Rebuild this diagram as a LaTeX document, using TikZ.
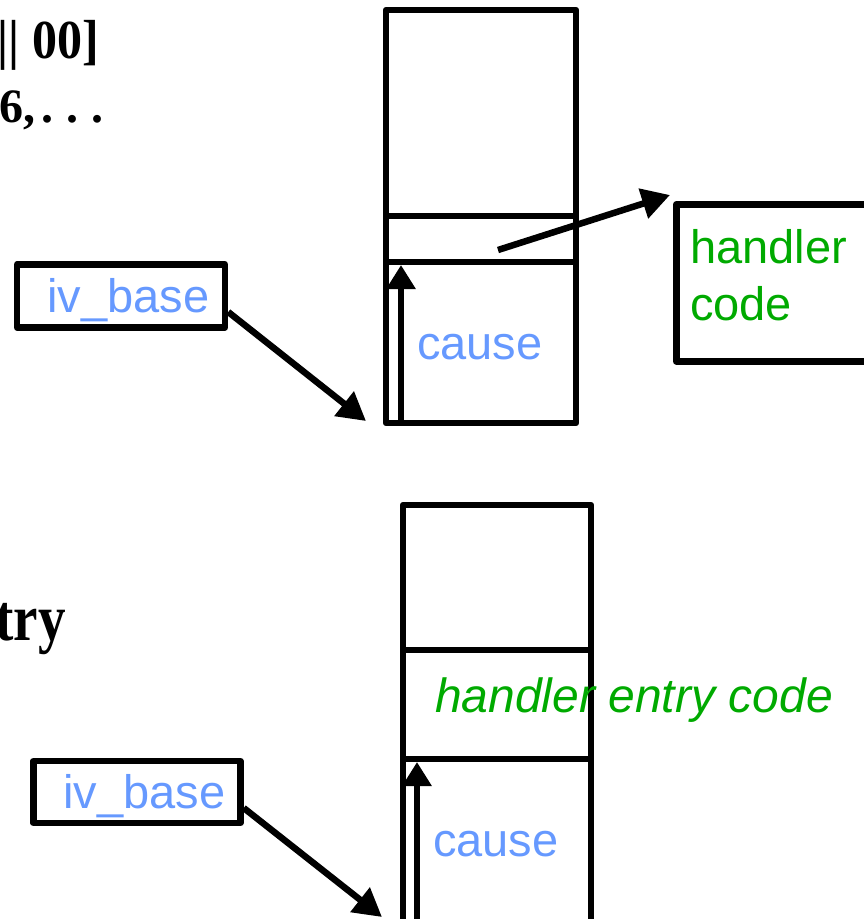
\documentclass[tikz,border=0pt]{standalone}
\usepackage{fontspec}
\usepackage{graphicx}
\setmainfont{Liberation Serif}
\setsansfont{Liberation Sans}
\usetikzlibrary{arrows.meta}
\definecolor{labelblue}{RGB}{102,153,255}
\definecolor{codegreen}{RGB}{0,170,0}
\tikzset{
  frame/.style={draw=black, line width=6.5pt, line join=round},
  ptr/.style={line width=6.5pt, -{Triangle[length=28pt,width=30pt]}},
  uparrow/.style={line width=6.5pt, -{Triangle[length=24pt,width=28pt]}},
  bluelbl/.style={text=labelblue, inner sep=0pt, font=\sffamily\fontsize{47}{57}\selectfont},
  greenlbl/.style={text=codegreen, inner sep=0pt, align=left, font=\sffamily\fontsize{47}{57}\selectfont},
  heading/.style={inner sep=0pt, font=\bfseries\fontsize{#1}{#1}\selectfont}
}
\begin{document}
\begin{tikzpicture}[x=1pt, y=-1pt]
\useasboundingbox (0,0) rectangle (864,919);
\clip (0,0) rectangle (864,919);

% headings at the left margin
\node[heading=50, anchor=base east] (h1) at (99,58) {\scalebox{1}[1.1]{|| 00]}};
\node[heading=48, anchor=base east] (h2) at (104,122) {6,\kern0.125em.\kern0.27em.\kern0.27em.};
\node[heading=55, anchor=base east] (h3) at (66,640) {\scalebox{1}[1.2]{try}};

% ---- upper vector table ----
\draw[frame] (386,10) rectangle (576,423);
\draw[frame] (386,216) -- (576,216);
\draw[frame] (386,262) -- (576,262);
\coordinate (topfoot) at (401,423);
\coordinate (topslot) at (401,265);
\draw[uparrow] (topfoot) -- (topslot);
\node[bluelbl, anchor=base west] (causeA) at (417,359) {cause};

% handler code box
\node[frame, minimum width=207pt, minimum height=157pt, anchor=north west] (handler) at (673,201) {};
\node[greenlbl, anchor=base west] (hcA) at (690,263) {handler};
\node[greenlbl, anchor=base west] (hcB) at (690,320) {code};
\coordinate (entry) at (498,250);
\draw[ptr] (entry) -- ([xshift=-3pt,yshift=6pt]handler.north west);

% iv_base pointer (upper)
\node[frame, minimum width=208pt, minimum height=63pt, inner sep=0pt] (ivA) at (121,296) {};
\node[bluelbl, anchor=base west] (ivAt) at (47,312) {iv\_base};
\coordinate (baseA) at (366,421);
\draw[ptr] ([yshift=-16pt]ivA.east) -- (baseA);

% ---- lower vector table ----
\draw[frame] (403,505) rectangle (591,940);
\draw[frame] (403,650) -- (591,650);
\draw[frame] (403,759) -- (591,759);
\coordinate (botfoot) at (417,930);
\coordinate (botslot) at (417,762);
\draw[uparrow] (botfoot) -- (botslot);
\node[bluelbl, anchor=base west] (causeB) at (433,856) {cause};
\node[greenlbl, anchor=base west, font=\sffamily\fontsize{48}{57}\selectfont] (hec) at (435,712) {\itshape handler entry code};

% iv_base pointer (lower)
\node[frame, minimum width=207pt, minimum height=62pt, inner sep=0pt] (ivB) at (137,792) {};
\node[bluelbl, anchor=base west] (ivBt) at (63,808) {iv\_base};
\coordinate (baseB) at (382,917);
\draw[ptr] ([yshift=-16pt]ivB.east) -- (baseB);
\end{tikzpicture}
\end{document}
